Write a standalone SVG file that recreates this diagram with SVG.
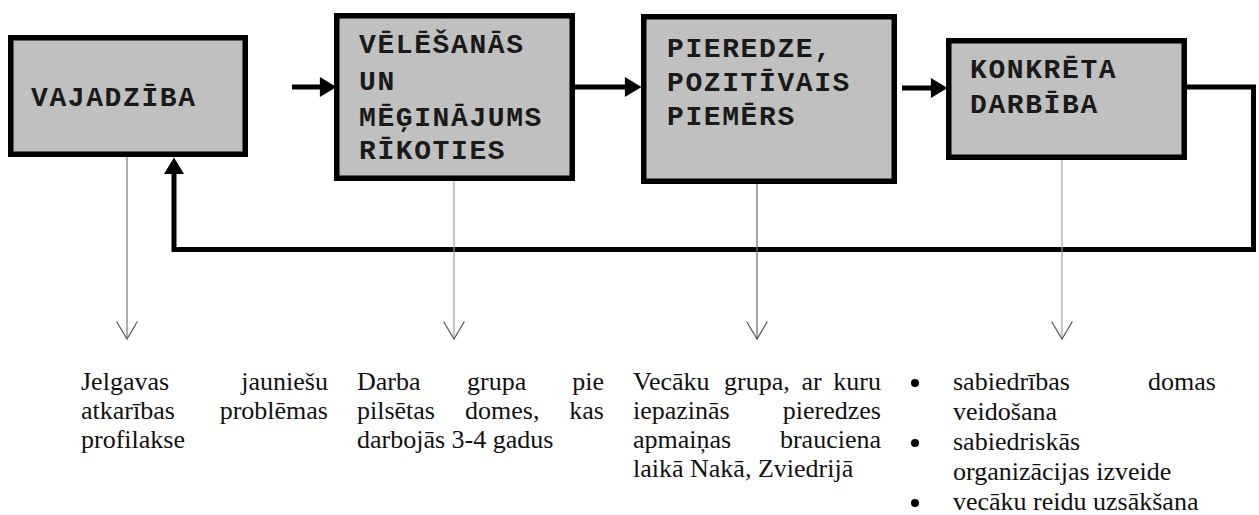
<svg xmlns="http://www.w3.org/2000/svg" width="1259" height="515" viewBox="0 0 1259 515">
<style>
.box{fill:#c0c0c0;stroke:#000;stroke-width:5.5}
.bt{font-family:"Liberation Mono","Courier New",monospace;font-weight:bold;font-size:28px;letter-spacing:1.6px;fill:#1a1a1a}
.thick{fill:none;stroke:#000;stroke-width:5;stroke-linejoin:miter}
.thin{fill:none;stroke-width:1.2}
.tx{font-family:"Liberation Serif","Times New Roman",serif;font-size:26px;fill:#111}
.end{text-anchor:end}
</style>
<defs>
<marker id="ah" markerUnits="userSpaceOnUse" markerWidth="20" markerHeight="20" viewBox="0 0 16 18" refX="1" refY="9" orient="auto">
<path d="M0,0 L15,9 L0,18 z" fill="#000"/>
</marker>
<marker id="vh" markerUnits="userSpaceOnUse" markerWidth="24" markerHeight="24" viewBox="-1 -11 19 22" refX="16" refY="0" orient="auto">
<path d="M0,-9.5 L16,0 L0,9.5" fill="none" stroke="#555" stroke-width="1.1"/>
</marker>
</defs>

<g id="connectors">
<path class="thick" d="M292,87 H321" marker-end="url(#ah)"/>
<path class="thick" d="M575,87 H626" marker-end="url(#ah)"/>
<path class="thick" d="M902,88 H932" marker-end="url(#ah)"/>
<path class="thick" d="M1187,87 H1253.5 V249.5 H174 V173" marker-end="url(#ah)"/>
<path class="thin" stroke="#7a7a7a" d="M127,157 V339" marker-end="url(#vh)"/>
<path class="thin" stroke="#a0a0a0" d="M454,159 V339" marker-end="url(#vh)"/>
<path class="thin" stroke="#6a6a6a" d="M757,184 V339" marker-end="url(#vh)"/>
<path class="thin" stroke="#a4a4a4" d="M1062,160 V339" marker-end="url(#vh)"/>
</g>

<g id="node-vajadziba">
<rect class="box" x="10.75" y="37.75" width="234.5" height="116.5"/>
<text class="bt" x="31" y="106">VAJADZĪBA</text>
</g>
<g id="node-velesanas">
<rect class="box" x="336.75" y="15.75" width="235.5" height="162.5"/>
<text class="bt" x="359" y="53">VĒLĒŠANĀS</text>
<text class="bt" x="359" y="90">UN</text>
<text class="bt" x="359" y="126">MĒĢINĀJUMS</text>
<text class="bt" x="359" y="159">RĪKOTIES</text>
</g>
<g id="node-pieredze">
<rect class="box" x="643.75" y="16.75" width="250.5" height="164.5"/>
<text class="bt" x="667" y="57">PIEREDZE,</text>
<text class="bt" x="667" y="91">POZITĪVAIS</text>
<text class="bt" x="667" y="125">PIEMĒRS</text>
</g>
<g id="node-konkreta">
<rect class="box" x="948.75" y="40.75" width="235.5" height="116.5"/>
<text class="bt" x="970" y="78">KONKRĒTA</text>
<text class="bt" x="970" y="113">DARBĪBA</text>
</g>

<g id="text-1">
<text class="tx" x="81" y="390">Jelgavas</text>
<text class="tx end" x="328" y="390">jauniešu</text>
<text class="tx" x="81" y="419">atkarības</text>
<text class="tx end" x="328" y="419">problēmas</text>
<text class="tx" x="81" y="448">profilakse</text>
</g>
<g id="text-2">
<text class="tx" x="357" y="390">Darba</text>
<text class="tx" x="467" y="390">grupa</text>
<text class="tx end" x="604" y="390">pie</text>
<text class="tx" x="357" y="419">pilsētas</text>
<text class="tx" x="465" y="419">domes,</text>
<text class="tx end" x="604" y="419">kas</text>
<text class="tx" x="357" y="448">darbojās 3-4 gadus</text>
</g>
<g id="text-3">
<text class="tx" x="633" y="390">Vecāku</text>
<text class="tx" x="724" y="390">grupa,</text>
<text class="tx" x="801.5" y="390">ar</text>
<text class="tx end" x="881" y="390">kuru</text>
<text class="tx" x="633" y="419">iepazinās</text>
<text class="tx end" x="881" y="419">pieredzes</text>
<text class="tx" x="633" y="448">apmaiņas</text>
<text class="tx end" x="881" y="448">brauciena</text>
<text class="tx" x="633" y="477">laikā Nakā, Zviedrijā</text>
</g>
<g id="text-4">
<circle cx="915" cy="383" r="4" fill="#000"/>
<circle cx="915" cy="443" r="4" fill="#000"/>
<circle cx="915" cy="503" r="4" fill="#000"/>
<text class="tx" x="953" y="390">sabiedrības</text>
<text class="tx end" x="1216" y="390">domas</text>
<text class="tx" x="953" y="420">veidošana</text>
<text class="tx" x="953" y="450">sabiedriskās</text>
<text class="tx" x="953" y="480">organizācijas izveide</text>
<text class="tx" x="953" y="510">vecāku reidu uzsākšana</text>
</g>
</svg>
